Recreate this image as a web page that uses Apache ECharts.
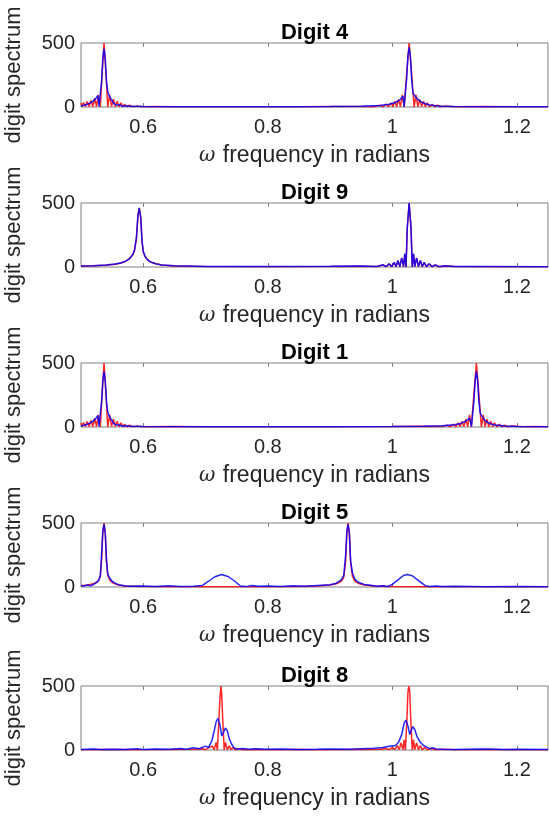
<!DOCTYPE html>
<html>
<head>
<meta charset="utf-8">
<script src="https://cdn.jsdelivr.net/npm/echarts@6/dist/echarts.min.js"></script>
<style>
html,body{margin:0;padding:0;background:#fff;}
#chart{width:549px;height:816px;}
</style>
</head>
<body>
<div id="chart"></div>
<script>
// ---- Data ----
const titles = ['Digit 4', 'Digit 9', 'Digit 1', 'Digit 5', 'Digit 8'];
const xTicks = [0.6, 0.8, 1, 1.2];
const yTicks = [0, 500];

const d4Red = [[0.500,30],[0.502,4],[0.504,35],[0.507,4],[0.510,42],[0.513,4],[0.516,52],[0.519,4],[0.522,68],[0.525,4],[0.528,95],[0.531,0],[0.534,260],[0.537,500],[0.540,260],[0.543,0],[0.546,95],[0.549,4],[0.552,62],[0.555,4],[0.558,45],[0.561,3],[0.564,32],[0.567,3],[0.570,22],[0.574,2],[0.578,14],[0.583,2],[0.590,8],[0.600,2],[0.620,4],[0.650,1],[0.700,2],[0.750,1],[0.800,2],[0.850,1],[0.900,3],[0.950,4],[0.970,2],[0.980,14],[0.985,2],[0.990,22],[0.994,3],[0.998,32],[1.001,3],[1.004,45],[1.007,3],[1.010,62],[1.013,3],[1.016,95],[1.019,0],[1.023,260],[1.027,500],[1.031,260],[1.035,0],[1.038,95],[1.041,3],[1.044,62],[1.047,3],[1.050,45],[1.053,3],[1.056,32],[1.060,2],[1.064,22],[1.068,2],[1.072,14],[1.078,2],[1.085,8],[1.100,2],[1.150,3],[1.200,1],[1.250,2]];
const d4Blue = [[0.500,8],[0.505,14],[0.510,22],[0.515,32],[0.520,48],[0.524,68],[0.527,90],[0.529,5],[0.531,0],[0.533,200],[0.535,380],[0.537,455],[0.539,380],[0.541,200],[0.543,120],[0.546,80],[0.550,50],[0.553,25],[0.555,38],[0.558,15],[0.562,18],[0.566,8],[0.570,10],[0.580,5],[0.600,3],[0.650,2],[0.700,1],[0.750,2],[0.800,1],[0.850,2],[0.900,3],[0.950,6],[0.980,12],[0.995,22],[1.005,35],[1.012,55],[1.017,85],[1.019,5],[1.021,0],[1.023,220],[1.025,400],[1.027,465],[1.029,400],[1.031,220],[1.033,110],[1.037,80],[1.042,55],[1.047,38],[1.053,25],[1.060,16],[1.070,10],[1.080,6],[1.100,4],[1.150,2],[1.200,2],[1.250,1]];

const d9Red = [[0.500,6],[0.520,9],[0.540,14],[0.555,22],[0.565,32],[0.572,45],[0.578,65],[0.583,95],[0.586,130],[0.589,220],[0.5915,400],[0.5936,460],[0.596,380],[0.598,200],[0.600,120],[0.603,80],[0.607,55],[0.612,38],[0.620,25],[0.630,15],[0.650,8],[0.700,4],[0.800,2],[0.900,4],[0.950,6],[0.975,3],[0.985,16],[0.990,3],[0.995,24],[0.999,3],[1.003,35],[1.006,3],[1.009,50],[1.012,3],[1.015,70],[1.018,3],[1.020,100],[1.022,0],[1.024,300],[1.027,500],[1.030,300],[1.032,0],[1.034,100],[1.036,3],[1.039,70],[1.042,3],[1.045,50],[1.048,3],[1.051,35],[1.055,3],[1.059,24],[1.064,2],[1.069,16],[1.075,2],[1.085,8],[1.100,3],[1.150,2],[1.250,2]];
const d9Blue = [[0.500,7],[0.520,10],[0.540,15],[0.555,23],[0.565,33],[0.572,46],[0.578,66],[0.583,96],[0.586,135],[0.589,230],[0.5915,410],[0.5936,462],[0.596,385],[0.598,205],[0.600,122],[0.603,82],[0.607,56],[0.612,39],[0.620,26],[0.630,16],[0.650,9],[0.700,4],[0.800,3],[0.900,5],[0.950,7],[0.975,4],[0.985,17],[0.990,4],[0.995,25],[0.999,4],[1.003,36],[1.006,4],[1.009,52],[1.012,4],[1.015,72],[1.018,4],[1.020,105],[1.022,0],[1.024,310],[1.027,500],[1.030,310],[1.032,0],[1.034,105],[1.036,4],[1.039,72],[1.042,4],[1.045,52],[1.048,4],[1.051,36],[1.055,4],[1.059,25],[1.064,3],[1.069,17],[1.075,3],[1.085,9],[1.100,4],[1.150,3],[1.250,2]];

const d1Red = [[0.500,30],[0.502,4],[0.504,35],[0.507,4],[0.510,42],[0.513,4],[0.516,52],[0.519,4],[0.522,68],[0.525,4],[0.528,95],[0.531,0],[0.534,260],[0.537,500],[0.540,260],[0.543,0],[0.546,95],[0.549,4],[0.552,62],[0.555,4],[0.558,45],[0.561,3],[0.564,32],[0.567,3],[0.570,22],[0.574,2],[0.578,14],[0.583,2],[0.590,8],[0.600,2],[0.650,3],[0.700,1],[0.800,2],[0.900,1],[1.000,3],[1.050,5],[1.080,3],[1.088,14],[1.093,2],[1.098,22],[1.102,3],[1.106,32],[1.109,3],[1.112,45],[1.115,3],[1.118,62],[1.121,3],[1.124,95],[1.127,0],[1.131,260],[1.135,500],[1.139,260],[1.143,0],[1.146,95],[1.149,3],[1.152,62],[1.155,3],[1.158,45],[1.161,3],[1.164,32],[1.168,2],[1.172,22],[1.176,2],[1.180,14],[1.186,2],[1.193,8],[1.210,2],[1.230,4],[1.250,2]];
const d1Blue = [[0.500,8],[0.505,14],[0.510,22],[0.515,32],[0.520,48],[0.524,68],[0.527,90],[0.529,5],[0.531,0],[0.533,200],[0.535,360],[0.537,435],[0.539,360],[0.541,200],[0.543,115],[0.546,78],[0.550,48],[0.553,25],[0.555,35],[0.558,15],[0.562,17],[0.566,8],[0.570,9],[0.580,5],[0.600,3],[0.700,2],[0.800,1],[0.900,2],[1.000,3],[1.050,5],[1.080,10],[1.100,18],[1.110,28],[1.118,45],[1.124,70],[1.127,5],[1.129,0],[1.131,200],[1.133,360],[1.135,435],[1.137,360],[1.139,200],[1.141,110],[1.145,75],[1.150,45],[1.156,28],[1.165,16],[1.180,8],[1.200,4],[1.250,2]];

const d5Red = [[0.500,10],[0.510,15],[0.520,25],[0.527,45],[0.531,80],[0.533,200],[0.535,420],[0.537,500],[0.539,420],[0.541,200],[0.543,90],[0.547,50],[0.552,30],[0.560,15],[0.570,8],[0.600,4],[0.650,2],[0.700,1],[0.750,1],[0.800,2],[0.850,4],[0.880,8],[0.900,15],[0.910,25],[0.918,45],[0.922,75],[0.925,200],[0.927,420],[0.929,500],[0.931,420],[0.933,200],[0.936,80],[0.940,45],[0.946,28],[0.955,15],[0.970,8],[0.990,3],[1.050,2],[1.100,2],[1.150,1],[1.250,1]];
const d5Blue = [[0.500,12],[0.505,8],[0.510,15],[0.515,10],[0.520,20],[0.525,35],[0.529,55],[0.531,90],[0.533,250],[0.535,440],[0.537,490],[0.539,420],[0.541,200],[0.543,100],[0.546,70],[0.550,45],[0.555,30],[0.560,18],[0.570,10],[0.580,6],[0.600,8],[0.620,4],[0.640,9],[0.660,3],[0.680,6],[0.695,12],[0.705,45],[0.715,80],[0.726,98],[0.737,80],[0.747,45],[0.756,8],[0.765,3],[0.775,12],[0.785,5],[0.800,8],[0.820,4],[0.840,10],[0.860,6],[0.880,12],[0.900,18],[0.910,30],[0.918,55],[0.922,90],[0.925,250],[0.927,440],[0.929,490],[0.931,420],[0.933,200],[0.936,110],[0.940,60],[0.946,35],[0.955,20],[0.965,14],[0.975,6],[0.985,10],[0.993,4],[1.000,20],[1.010,60],[1.018,90],[1.024,98],[1.032,88],[1.042,50],[1.053,10],[1.060,4],[1.070,8],[1.080,3],[1.100,5],[1.150,2],[1.200,3],[1.250,2]];

const d8Red = [[0.500,2],[0.550,3],[0.600,2],[0.650,4],[0.680,6],[0.695,10],[0.700,3],[0.705,18],[0.708,3],[0.711,30],[0.714,3],[0.717,60],[0.719,0],[0.721,200],[0.7235,430],[0.7247,500],[0.726,430],[0.728,200],[0.730,0],[0.732,60],[0.735,3],[0.738,32],[0.741,3],[0.744,20],[0.748,2],[0.753,10],[0.760,2],[0.780,4],[0.800,2],[0.850,3],[0.900,2],[0.950,4],[0.980,5],[0.990,12],[0.995,3],[1.000,20],[1.004,3],[1.008,35],[1.011,3],[1.014,55],[1.017,3],[1.019,80],[1.021,0],[1.0235,250],[1.025,450],[1.0265,500],[1.028,450],[1.0295,250],[1.032,0],[1.034,80],[1.036,3],[1.039,55],[1.042,3],[1.045,35],[1.048,3],[1.052,20],[1.056,2],[1.062,12],[1.070,2],[1.080,6],[1.100,2],[1.150,3],[1.200,2],[1.250,2]];
const d8Blue = [[0.500,4],[0.520,8],[0.530,3],[0.550,6],[0.570,3],[0.590,10],[0.600,4],[0.620,8],[0.640,5],[0.660,12],[0.670,6],[0.680,18],[0.690,10],[0.700,30],[0.705,20],[0.710,70],[0.714,150],[0.717,220],[0.720,248],[0.723,200],[0.726,110],[0.729,140],[0.732,172],[0.735,150],[0.738,90],[0.742,45],[0.746,15],[0.750,8],[0.760,12],[0.770,6],[0.780,10],[0.800,5],[0.820,8],[0.850,4],[0.880,6],[0.900,8],[0.930,6],[0.950,10],[0.970,14],[0.985,20],[0.995,30],[1.005,35],[1.010,60],[1.015,120],[1.019,210],[1.0217,234],[1.025,190],[1.028,120],[1.030,150],[1.033,183],[1.036,160],[1.040,100],[1.045,60],[1.050,35],[1.056,20],[1.060,10],[1.065,18],[1.070,8],[1.080,6],[1.100,4],[1.150,8],[1.180,4],[1.200,6],[1.250,3]];

const redSets = [d4Red, d9Red, d1Red, d5Red, d8Red];
const blueSets = [d4Blue, d9Blue, d1Blue, d5Blue, d8Blue];

// ---- Layout ----
const FONT = "'Liberation Sans', Arial, Helvetica, sans-serif";
const TXT = '#262626';
const AX = '#808080';
const gridTops = [43, 203, 363, 523, 686];
const gridH = 64;
const gridLeft = 81;
const gridW = 467;

const grids = [], xAxes = [], yAxes = [], series = [], title = [];
for (let i = 0; i < 5; i++) {
  grids.push({left: gridLeft, top: gridTops[i], width: gridW, height: gridH,
    outerBoundsMode: 'none', containLabel: false,
    show: true, borderColor: AX, borderWidth: 1, backgroundColor: '#fff'});
  title.push({text: titles[i], left: gridLeft + gridW / 2, textAlign: 'center',
    top: gridTops[i] - 21, padding: 0,
    textStyle: {fontFamily: FONT, fontSize: 22, fontWeight: 'bold', color: '#000'}});
  xAxes.push({type: 'value', gridIndex: i, position: 'bottom', min: 0.5, max: 1.25,
    axisLine: {show: false}, splitLine: {show: false},
    axisTick: {show: true, inside: true, length: 4, customValues: xTicks, lineStyle: {color: AX}},
    axisLabel: {customValues: xTicks, fontFamily: FONT, fontSize: 20, color: TXT, margin: 10,
      formatter: v => String(v)},
    name: '{w|ω} frequency in radians', nameLocation: 'middle', nameGap: 37,
    nameTextStyle: {fontFamily: FONT, fontSize: 23, color: TXT,
      rich: {w: {fontFamily: "'DejaVu Serif', serif", fontStyle: 'italic', fontSize: 20, color: TXT, padding: [0, 1, 0, 0]}}}});
  xAxes.push({type: 'value', gridIndex: i, position: 'top', min: 0.5, max: 1.25,
    axisLine: {show: false}, splitLine: {show: false}, axisLabel: {show: false},
    axisTick: {show: true, inside: true, length: 4, customValues: xTicks, lineStyle: {color: AX}}});
  yAxes.push({type: 'value', gridIndex: i, min: yTicks[0], max: yTicks[1], interval: 500,
    axisLine: {show: false}, splitLine: {show: false},
    axisTick: {show: false},
    axisLabel: {fontFamily: FONT, fontSize: 20, color: TXT, margin: 6},
    name: 'digit spectrum', nameLocation: 'middle', nameGap: 56,
    nameTextStyle: {fontFamily: FONT, fontSize: 22, color: TXT}});
  series.push({type: 'line', xAxisIndex: 2 * i, yAxisIndex: i, data: redSets[i],
    showSymbol: false, lineStyle: {color: '#ff0000', width: 1.5, opacity: 0.85}, silent: true, clip: true, z: 2});
  series.push({type: 'line', xAxisIndex: 2 * i, yAxisIndex: i, data: blueSets[i],
    showSymbol: false, lineStyle: {color: '#0000ff', width: 1.5, opacity: 0.85}, silent: true, clip: true, z: 3});
}

const chart = echarts.init(document.getElementById('chart'), null, {renderer: 'canvas'});
chart.setOption({
  backgroundColor: '#fff',
  animation: false,
  title: title,
  grid: grids,
  xAxis: xAxes,
  yAxis: yAxes,
  series: series
});
</script>
</body>
</html>
